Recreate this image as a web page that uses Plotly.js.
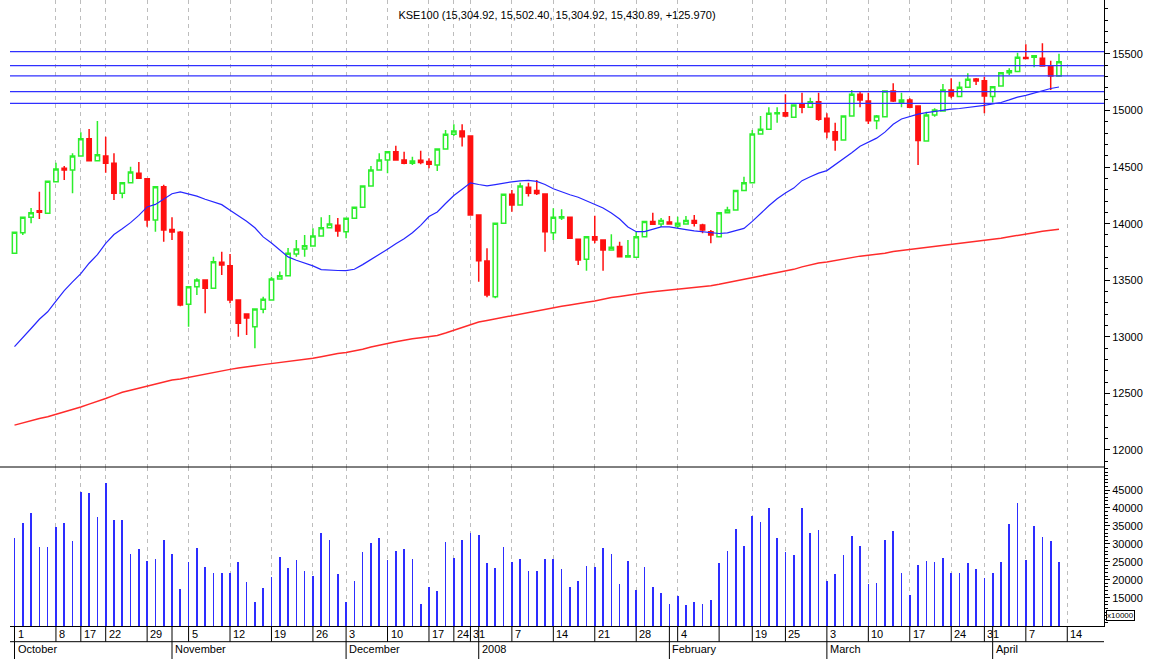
<!DOCTYPE html>
<html><head><meta charset="utf-8">
<script src="https://cdn.plot.ly/plotly-3.0.1.min.js"></script>
<style>html,body{margin:0;padding:0;background:#fff;}#chart{width:1162px;height:659px;}</style>
</head><body><div id="chart"></div>
<script>
// ---- data (KSE100 daily, Oct 2007 - Apr 2008) ----
const openP = [13738,13920,14056,14115,14092,14371,14490,14475,14598,14751,
14557,14598,14534,14269,14362,14445,14398,14033,14327,13949,
13924,13287,13443,13502,13429,13659,13629,13325,13202,13089,
13243,13325,13511,13540,13732,13776,13803,13891,13964,13985,
13929,14048,14145,14333,14475,14563,14636,14563,14534,14560,
14550,14519,14660,14790,14819,14775,14077,13670,13355,14003,
14260,14165,14322,14292,14262,13920,14050,14056,13862,13685,
13885,13856,13767,13797,13705,13703,13885,14018,13997,14015,
13980,13997,14027,13988,13929,13885,14097,14121,14292,14362,
14793,14834,14972,14981,14940,15058,15029,15078,14932,14813,
14740,14952,15144,15085,14910,14946,15173,15070,15093,15040,
14731,14961,14996,15182,15123,15206,15279,15264,15123,15217,
15335,15344,15469,15471,15462,15394,15304.92];
const highP = [13924,14056,14139,14283,14375,14539,14510,14622,14808,14837,
14908,14769,14622,14362,14504,14545,14398,14327,14345,14056,
13935,13443,13517,13502,13708,13752,13732,13330,13208,13246,
13355,13531,13576,13785,13856,13900,13959,14056,14077,14050,
14048,14150,14333,14510,14622,14640,14689,14636,14592,14645,
14578,14660,14828,14879,14879,14775,14077,13782,14003,14260,
14298,14362,14362,14386,14262,14136,14127,14056,13862,13885,
14071,13856,13906,13840,13856,13929,14018,14097,14050,14068,
14062,14068,14077,14000,13944,14097,14150,14292,14415,14828,
14952,15029,15029,15144,15049,15158,15114,15158,14976,14893,
14952,15182,15173,15158,14960,15173,15241,15158,15108,15040,
14990,15020,15235,15285,15255,15329,15288,15299,15211,15335,
15374,15511,15586,15490,15595,15441,15502.40];
const lowP = [13738,13900,14003,14041,14092,14371,14386,14269,14598,14557,
14557,14451,14209,14224,14362,14395,13973,13929,13841,13856,
13270,13089,13370,13208,13429,13546,13296,13001,13016,12898,
13208,13325,13511,13540,13708,13708,13803,13891,13964,13885,
13871,14048,14145,14333,14475,14445,14563,14525,14519,14525,
14490,14466,14660,14775,14681,14077,13487,13349,13340,14003,
14106,14165,14239,14254,13752,13856,14033,13871,13635,13584,
13827,13584,13767,13708,13700,13703,13885,13990,13970,13997,
13959,13990,13974,13915,13827,13885,14097,14121,14292,14362,
14793,14834,14893,14940,14940,14976,15029,14910,14755,14645,
14740,14952,15029,14881,14834,14946,15075,15029,15020,14519,
14731,14946,14996,15108,15123,15206,15226,14976,15070,15217,
15314,15344,15453,15382,15390,15182,15304.92];
const closeP = [13924,14056,14097,14101,14375,14483,14475,14598,14751,14557,
14610,14534,14269,14362,14457,14401,14033,14327,13944,13927,
13281,13443,13502,13429,13664,13635,13325,13119,13166,13246,
13332,13511,13540,13738,13776,13805,13891,13964,13997,13935,
14048,14145,14333,14475,14563,14636,14563,14534,14554,14540,
14525,14660,14790,14819,14769,14077,13673,13370,14003,14260,
14165,14333,14269,14266,13929,14056,14060,13871,13679,13885,
13856,13767,13791,13708,13717,13885,14018,13995,14027,13998,
14003,14027,14003,13944,13900,14097,14121,14292,14362,14793,
14834,14976,14980,14952,15049,15029,15078,14923,14813,14740,
14952,15144,15093,14910,14952,15173,15085,15093,15029,14734,
14961,15005,15182,15129,15206,15276,15261,15129,15211,15335,
15352,15471,15460,15485,15394,15304.92,15430.89];
const volume = [31700,35890,38510,29120,29120,34610,35890,30800,44360,44250,
37480,46870,36560,36560,27170,28480,25310,25860,31070,27170,
17510,24940,28760,23550,21980,21980,21980,24940,19370,13890,
17790,20680,26250,23270,25500,22350,21040,33020,31070,21690,
13890,19740,27810,30150,31630,25500,28090,28480,25860,13240,
18060,16870,30430,26150,31070,33020,32370,24580,23270,29120,
24940,25860,22350,22350,25860,25860,22910,17900,19740,23920,
23550,28760,27170,18820,25220,17150,23550,18060,16220,13240,
15560,12970,13890,13240,14280,24580,28090,34220,29400,37760,
36170,39990,31630,27730,26810,39990,33020,33860,19740,21600,
26810,32270,29400,18820,19090,31070,33580,21980,15660,24200,
25220,24940,26150,21980,21980,24580,22910,20400,21980,24940,
35530,41290,25500,34890,31910,30710,24940];
const maShort = [12913,12989,13073,13155,13221,13316,13409,13485,13558,13650,
13727,13825,13904,13955,14009,14073,14148,14170,14216,14264,
14281,14263,14243,14216,14194,14168,14118,14072,14022,13964,
13883,13829,13769,13706,13677,13652,13627,13594,13588,13586,
13585,13597,13638,13682,13732,13774,13822,13866,13919,13985,
14063,14103,14178,14249,14304,14361,14346,14334,14345,14360,
14370,14378,14383,14373,14346,14308,14280,14256,14234,14201,
14173,14138,14094,14041,13970,13929,13929,13948,13972,13972,
13957,13948,13937,13929,13923,13913,13919,13937,13958,14020,
14092,14158,14220,14272,14314,14380,14414,14447,14469,14521,
14570,14627,14685,14720,14756,14809,14879,14925,14949,14968,
14982,14993,15006,15012,15018,15025,15034,15045,15059,15071,
15094,15119,15134,15156,15176,15195,15208];
const maLong = [12219,12239,12260,12278,12293,12314,12335,12353,12379,12405,
12427,12455,12482,12509,12528,12547,12568,12583,12601,12618,
12626,12641,12658,12672,12684,12697,12712,12725,12738,12745,
12754,12763,12773,12783,12793,12802,12811,12824,12841,12852,
12861,12873,12890,12909,12928,12941,12956,12970,12982,12991,
13001,13012,13034,13058,13083,13110,13131,13144,13158,13175,
13187,13204,13215,13229,13240,13257,13270,13281,13290,13305,
13317,13333,13347,13357,13370,13378,13390,13399,13406,13413,
13423,13429,13437,13442,13451,13464,13478,13492,13504,13522,
13538,13553,13567,13582,13596,13618,13635,13652,13662,13676,
13689,13700,13713,13721,13728,13739,13754,13763,13768,13779,
13789,13798,13809,13818,13827,13837,13846,13853,13863,13871,
13884,13898,13907,13920,13932,13942,13950];
const levels = [15520, 15397, 15306, 15167, 15064];
// x-axis: trading-day numbers where a week starts, with their day labels
const weekIdx  = [1,6,9,12,17,22,27,32,37,41,46,51,54,56,61,66,71,76,81,86,90,94,99,104,109,114,118,123,128];
const weekText = ['1','8','17','22','29','5','12','19','26','3','10','17','24','31','7','14','21','28','4','','19','25','3','10','17','24','31','7','14'];
const monthIdx  = [1,20,41,57,80,99,119];
const monthText = ['October','November','December','2008','February','March','April'];
const priceTicks = [12000,12500,13000,13500,14000,14500,15000,15500];
const volTicks = [10000,15000,20000,25000,30000,35000,40000,45000];

// ---- layout geometry ----
const W=1162,H=659,ML=10,MR=58,MT=0,MB=33;
const plotW=W-ML-MR, plotH=H-MT-MB;
const sepPx=467;
const volTop=(plotH-sepPx)/plotH;
const row1=-15.7/plotH, rowBottom=-MB/plotH;
const n=closeP.length;
const bar=Array.from({length:n},(_,i)=>i+1);
const FONT='Arial, "Liberation Sans", sans-serif';

const fmt=v=>v.toLocaleString('en-US',{minimumFractionDigits:2,maximumFractionDigits:2});
const chg=closeP[n-1]-closeP[n-2];
const titleText=`KSE100 (${fmt(openP[n-1])}, ${fmt(highP[n-1])}, ${fmt(lowP[n-1])}, ${fmt(closeP[n-1])}, ${chg>=0?'+':''}${chg.toFixed(3)})`;

const traces=[
 {type:'scatter',mode:'lines',x:bar,y:maLong,xaxis:'x',yaxis:'y',line:{color:'#ff2b2b',width:1.5},hoverinfo:'skip'},
 {type:'scatter',mode:'lines',x:bar,y:maShort,xaxis:'x',yaxis:'y',line:{color:'#2626ff',width:1.2},hoverinfo:'skip'},
 {type:'candlestick',x:bar,open:openP,high:highP,low:lowP,close:closeP,xaxis:'x',yaxis:'y',
  increasing:{line:{color:'#2cee2c',width:1.5},fillcolor:'#ffffff'},
  decreasing:{line:{color:'#ff1010',width:1.5},fillcolor:'#ff1010'},
  whiskerwidth:0,hoverinfo:'skip'},
 {type:'bar',x:bar,y:volume,xaxis:'x',yaxis:'y2',width:0.2,marker:{color:'#2d2dff',line:{width:0}},hoverinfo:'skip'}
];

const shapes=[];
levels.forEach(v=>shapes.push({type:'line',xref:'paper',yref:'y',x0:0,x1:1,y0:v,y1:v,line:{color:'#3030ff',width:1.3}}));
shapes.push({type:'line',xref:'paper',yref:'paper',x0:-ML/plotW,x1:1,y0:volTop,y1:volTop,line:{color:'#000',width:1}});
shapes.push({type:'line',xref:'paper',yref:'paper',x0:0,x1:1,y0:row1,y1:row1,line:{color:'#000',width:1}});
const sepSet=new Set(weekIdx.concat(monthIdx));
[...sepSet].forEach(i=>shapes.push({type:'line',xref:'x',yref:'paper',x0:i,x1:i,y0:0,y1:row1,line:{color:'#000',width:1}}));
monthIdx.forEach(i=>shapes.push({type:'line',xref:'x',yref:'paper',x0:i,x1:i,y0:row1,y1:rowBottom,line:{color:'#000',width:1}}));

const annotations=[];
weekIdx.forEach((i,k)=>{ if(weekText[k]) annotations.push({xref:'x',yref:'paper',x:i,y:row1/2,xanchor:'left',yanchor:'middle',xshift:1,showarrow:false,text:weekText[k],font:{family:FONT,size:11,color:'#000'}}); });
monthIdx.forEach((i,k)=>annotations.push({xref:'x',yref:'paper',x:i,y:(row1+rowBottom)/2+0.002,xanchor:'left',yanchor:'middle',xshift:1,showarrow:false,text:monthText[k],font:{family:FONT,size:11,color:'#000'}}));
annotations.push({xref:'paper',yref:'y2',x:1,y:volTicks[0],xanchor:'left',yanchor:'middle',xshift:2,showarrow:false,text:'x10000',font:{family:FONT,size:8,color:'#000'},bgcolor:'#fff',bordercolor:'#000',borderwidth:1,borderpad:0});

const gridIdx=weekIdx.filter((v,k)=>k>0 && weekText[k]!=='');

const layout={
 width:W,height:H,margin:{l:ML,r:MR,t:MT,b:MB,pad:0},
 paper_bgcolor:'#fff',plot_bgcolor:'#fff',showlegend:false,boxgap:0.25,bargap:0,
 title:{text:titleText,x:557/W,xanchor:'center',xref:'container',y:1-15/H,yanchor:'middle',yref:'container',font:{family:FONT,size:11,color:'#000'}},
 xaxis:{type:'linear',range:[0.457,132.43],anchor:'y2',showticklabels:false,ticks:'',
  tickmode:'array',tickvals:gridIdx,showgrid:true,gridcolor:'#bdbdbd',gridwidth:1,griddash:'4px,4px',
  zeroline:false,showline:true,linecolor:'#000',linewidth:1,rangeslider:{visible:false},fixedrange:true},
 yaxis:{domain:[volTop,1],side:'right',anchor:'x',range:[11849,15977],tickmode:'array',tickvals:priceTicks,
  ticktext:priceTicks.map(String),
  ticks:'outside',ticklen:5,tickcolor:'#000',tickwidth:1,
  minor:{dtick:100,tick0:0,ticks:'outside',ticklen:3,tickcolor:'#000',showgrid:false},
  showgrid:false,zeroline:false,showline:true,linecolor:'#000',linewidth:1,
  tickfont:{family:FONT,size:11,color:'#000'},fixedrange:true},
 yaxis2:{domain:[0,volTop],side:'right',anchor:'x',range:[7117,51407],tickmode:'array',tickvals:volTicks,
  ticktext:volTicks.map((v,k)=>k===0?'':String(v)),
  ticks:'outside',ticklen:5,tickcolor:'#000',tickwidth:1,
  minor:{dtick:1000,tick0:0,ticks:'outside',ticklen:3,tickcolor:'#000',showgrid:false},
  showgrid:false,zeroline:false,showline:true,linecolor:'#000',linewidth:1,
  tickfont:{family:FONT,size:11,color:'#000'},fixedrange:true},
 shapes:shapes,annotations:annotations
};
Plotly.newPlot('chart',traces,layout,{staticPlot:true,displayModeBar:false});
</script></body></html>
